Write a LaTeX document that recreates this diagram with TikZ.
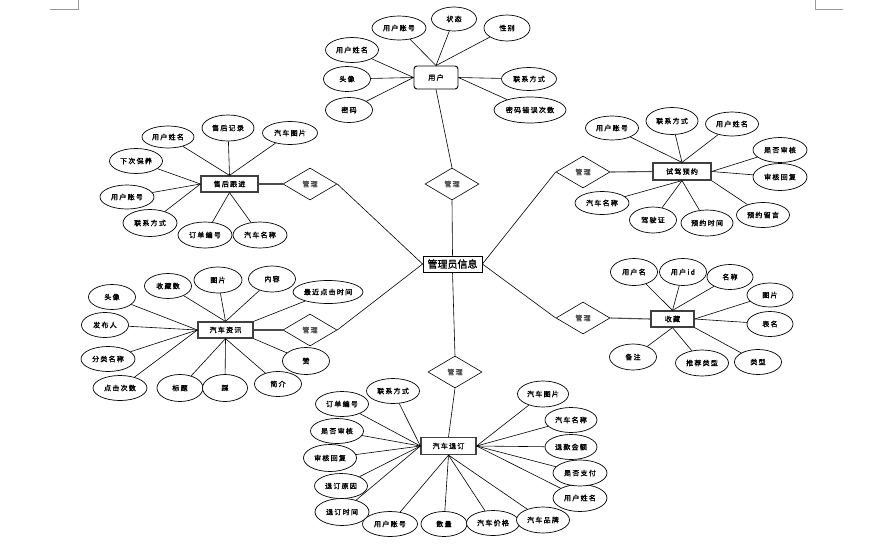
\documentclass[tikz,border=0pt]{standalone}
\usepackage{fontspec}
\usetikzlibrary{shapes.geometric}
\newfontfamily\cjkattr[LetterSpace=18,FakeBold=1.6]{Noto Sans CJK SC}
\newfontfamily\cjkmain[FakeBold=1.2]{Noto Sans CJK SC}
\tikzset{
  attr/.style={ellipse, draw=black, line width=0.7pt, inner sep=0pt, fill=white,
    font=\cjkattr\fontsize{7}{8}\selectfont},
  ent/.style={rectangle, draw=black!75, line width=1.2pt, inner sep=0pt, fill=white,
    font=\cjkattr\fontsize{7}{8}\selectfont},
  rel/.style={diamond, draw=black, line width=0.6pt, inner sep=0pt, fill=white,
    minimum width=54pt, minimum height=32pt, text=black!70,
    font=\cjkattr\fontsize{7}{8}\selectfont},
  cen/.style={rectangle, draw=black, line width=0.8pt, inner sep=0pt, fill=white,
    minimum width=59pt, minimum height=16pt, font=\cjkmain\fontsize{10}{11}\selectfont},
  ln/.style={line width=0.6pt, draw=black},
  lnb/.style={line width=1.1pt, draw=black!70},
  cornermark/.style={line width=0.6pt, draw=black!40},
  sz/.style 2 args={minimum width=#1pt, minimum height=#2pt},
}
\begin{document}
\begin{tikzpicture}[x=1pt, y=-1pt]
\useasboundingbox (0,0) rectangle (892,544);
\fill[white] (0,0) rectangle (892,544);
% page corner marks
\coordinate (m1) at (50,9); \coordinate (m2) at (78,9); \coordinate (m3) at (78,0);
\coordinate (m4) at (815,0); \coordinate (m5) at (815,9); \coordinate (m6) at (843,9);
\draw[cornermark] (m1) -- (m2) -- (m3);
\draw[cornermark] (m4) -- (m5) -- (m6);

% ---------- centre ----------
\node[cen] (C) at (452.5,264) {管理员信息};

% ---------- 用户 ----------
\node[ent, rounded corners=3pt, line width=0.9pt, draw=black, sz={44}{23}] (U) at (436,77.5) {用户};
\node[attr, sz={54}{24}] (u1) at (399,28) {用户账号};
\node[attr, sz={45}{24}] (u2) at (454,19) {状态};
\node[attr, sz={46}{26}] (u3) at (507,28) {性别};
\node[attr, sz={53}{25}] (u4) at (352,50) {用户姓名};
\node[attr, sz={47}{25}] (u5) at (347,79) {头像};
\node[attr, sz={47}{25}] (u6) at (349,110) {密码};
\node[attr, sz={55}{23}] (u7) at (529,79) {联系方式};
\node[attr, sz={72}{26}] (u8) at (530,110) {密码错误次数};
\node[rel] (R1) at (452,184) {管理};
\foreach \a in {u1,u2,u3} \draw[ln] (\a) -- (U.north);
\foreach \a in {u4,u5,u6} \draw[ln] (\a) -- (U.west);
\foreach \a in {u7,u8} \draw[ln] (\a) -- (U.east);
\draw[ln] (U.south) -- (R1.north);
\draw[ln] (R1.south) -- (C.north);

% ---------- 售后跟进 ----------
\node[ent, sz={57}{16}] (S) at (229.5,184) {售后跟进};
\node[attr, sz={52}{22}] (s1) at (168,137) {用户姓名};
\node[attr, sz={52}{26}] (s2) at (228,128) {售后记录};
\node[attr, sz={55}{23}] (s3) at (290,133) {汽车图片};
\node[attr, sz={53}{25}] (s4) at (136,161) {下次保养};
\node[attr, sz={54}{24}] (s5) at (127,197) {用户账号};
\node[attr, sz={54}{27}] (s6) at (150,223) {联系方式};
\node[attr, sz={54}{26}] (s7) at (205,235) {订单编号};
\node[attr, sz={54}{26}] (s8) at (260,235) {汽车名称};
\node[rel] (R2) at (310,184) {管理};
\foreach \a in {s1,s2,s3} \draw[ln] (\a) -- (S.north);
\foreach \a in {s4,s5,s6} \draw[ln] (\a) -- (S.west);
\foreach \a in {s7,s8} \draw[ln] (\a) -- (S.south);
\draw[lnb] (R2.west) -- (S.east);
\draw[ln] (C.west) -- (R2.east);

% ---------- 试驾预约 ----------
\node[ent, sz={58}{17}] (T) at (682,171.5) {试驾预约};
\node[attr, sz={53}{24}] (t1) at (612,128) {用户账号};
\node[attr, sz={52}{27}] (t2) at (672,121) {联系方式};
\node[attr, sz={53}{24}] (t3) at (732,124) {用户姓名};
\node[attr, sz={54}{25}] (t4) at (780,150) {是否审核};
\node[attr, sz={54}{27}] (t5) at (780,177) {审核回复};
\node[attr, sz={54}{23}] (t6) at (602,203) {汽车名称};
\node[attr, sz={47}{26}] (t7) at (653,220) {驾驶证};
\node[attr, sz={52}{26}] (t8) at (707,223) {预约时间};
\node[attr, sz={53}{25}] (t9) at (763,215) {预约留言};
\node[rel] (R3) at (583,172) {管理};
\foreach \a in {t1,t2,t3} \draw[ln] (\a) -- (T.north);
\foreach \a in {t4,t5} \draw[ln] (\a) -- (T.east);
\foreach \a in {t6,t7,t8} \draw[ln] (\a) -- (T.south);
\draw[ln] (t9) -- (T.south east);
\draw[lnb] (R3.east) -- (T.west);
\draw[ln] (C.east) -- (R3.west);

% ---------- 收藏 ----------
\node[ent, sz={43}{16}] (F) at (672.5,319) {收藏};
\node[attr, sz={47}{27}] (f1) at (634,272) {用户名};
\node[attr, sz={47}{27}] (f2) at (683,272) {用户id};
\node[attr, sz={46}{25}] (f3) at (730,277) {名称};
\node[attr, sz={46}{24}] (f4) at (770,295) {图片};
\node[attr, sz={46}{25}] (f5) at (770,324) {表名};
\node[attr, sz={47}{26}] (f6) at (633,357) {备注};
\node[attr, sz={53}{26}] (f7) at (702,363) {推荐类型};
\node[attr, sz={47}{25}] (f8) at (758,362) {类型};
\node[rel] (R4) at (583,318) {管理};
\foreach \a in {f1,f2,f3} \draw[ln] (\a) -- (F.north);
\foreach \a in {f4,f5} \draw[ln] (\a) -- (F.east);
\foreach \a in {f6,f7} \draw[ln] (\a) -- (F.south);
\draw[ln] (f8) -- (F.south east);
\draw[lnb] (R4.east) -- (F.west);
\draw[ln] (C.east) -- (R4.west);

% ---------- 汽车资讯 ----------
\node[ent, sz={55}{16}] (N) at (225.5,330) {汽车资讯};
\node[attr, sz={47}{25}] (n1) at (112,297) {头像};
\node[attr, sz={47}{25}] (n2) at (168,286) {收藏数};
\node[attr, sz={48}{26}] (n3) at (218,280) {图片};
\node[attr, sz={47}{26}] (n4) at (272,279) {内容};
\node[attr, sz={70}{23}] (n5) at (328,292) {最近点击时间};
\node[attr, sz={47}{25}] (n6) at (105,325) {发布人};
\node[attr, sz={54}{25}] (n7) at (108,359) {分类名称};
\node[attr, sz={54}{25}] (n8) at (120,388) {点击次数};
\node[attr, sz={46}{27}] (n9) at (180,388) {标题};
\node[attr, sz={45}{27}] (n10) at (225,388) {踩};
\node[attr, sz={47}{25}] (n11) at (278,384) {简介};
\node[attr, sz={47}{27}] (n12) at (306,361) {赞};
\node[rel] (R5) at (310,330) {管理};
\foreach \a in {n2,n3,n4} \draw[ln] (\a) -- (N.north);
\draw[ln] (n5) -- (N.north east);
\foreach \a in {n1,n6,n7,n8} \draw[ln] (\a) -- (N.west);
\foreach \a in {n9,n10,n11} \draw[ln] (\a) -- (N.south);
\draw[ln] (n12) -- (N.south east);
\draw[lnb] (R5.west) -- (N.east);
\draw[ln] (C.west) -- (R5.east);

% ---------- 汽车退订 ----------
\node[ent, sz={55}{17}] (D) at (448.5,446) {汽车退订};
\node[attr, sz={53}{25}] (d1) at (342,404) {订单编号};
\node[attr, sz={53}{25}] (d2) at (393,391) {联系方式};
\node[attr, sz={53}{25}] (d3) at (337,431) {是否审核};
\node[attr, sz={53}{27}] (d4) at (330,458) {审核回复};
\node[attr, sz={53}{25}] (d5) at (341,486) {退订原因};
\node[attr, sz={54}{27}] (d6) at (342,512) {退订时间};
\node[attr, sz={55}{25}] (d7) at (390,524) {用户账号};
\node[attr, sz={46}{25}] (d8) at (444,524) {数量};
\node[attr, sz={53}{25}] (d9) at (493,523) {汽车价格};
\node[attr, sz={53}{26}] (d10) at (543,520) {汽车品牌};
\node[attr, sz={54}{27}] (d11) at (580,498) {用户姓名};
\node[attr, sz={54}{26}] (d12) at (580,473) {是否支付};
\node[attr, sz={52}{25}] (d13) at (571,447) {退款金额};
\node[attr, sz={52}{25}] (d14) at (571,420) {汽车名称};
\node[attr, sz={51}{26}] (d15) at (543,394) {汽车图片};
\node[rel] (R6) at (455,372) {管理};
\foreach \a in {d1,d2,d3,d4,d5,d6} \draw[ln] (\a) -- (D.west);
\foreach \a in {d7,d8,d9,d10} \draw[ln] (\a) -- (D.south);
\foreach \a in {d11,d12,d13,d14,d15} \draw[ln] (\a) -- (D.east);
\draw[ln] (R6.south) -- (D.north);
\draw[ln] (C.south) -- (R6.north);
\end{tikzpicture}
\end{document}
